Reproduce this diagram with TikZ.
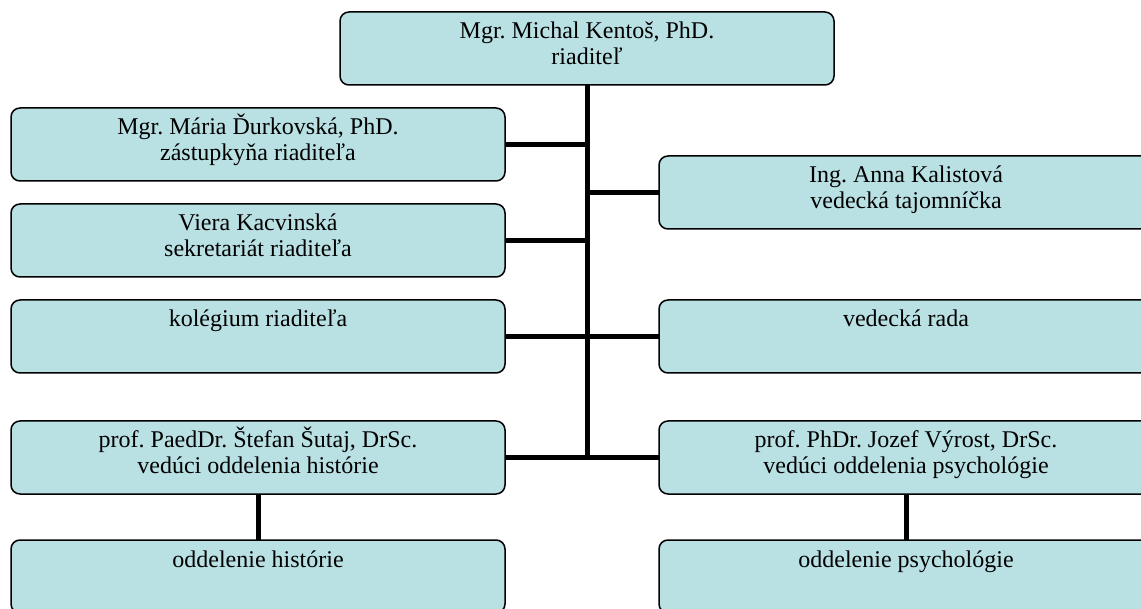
\documentclass[tikz,border=0pt]{standalone}
\usepackage{fontspec}
\setmainfont{Liberation Serif}
\frenchspacing
\begin{document}
\begin{tikzpicture}[x=1pt,y=-1pt,
  orgshape/.style={minimum width=494pt,minimum height=73pt,inner sep=0pt,outer sep=0pt},
  orgbox/.style={draw=black,line width=1.5pt,fill=boxfill,rounded corners=9pt},
  link/.style={draw=black,line width=5pt},
  lbl/.style={anchor=base,inner sep=0pt,font=\fontsize{24}{27}\selectfont}]
\definecolor{boxfill}{RGB}{185,224,227}
\useasboundingbox (0,0) rectangle (1141,609);
\clip (0,0) rectangle (1141,609);
% box positions
\node[orgshape] (top) at (587,48.5)  {};
\node[orgshape] (mar) at (258,144.5) {};
\node[orgshape] (vie) at (258,240.5) {};
\node[orgshape] (kol) at (258,336.5) {};
\node[orgshape] (sut) at (258,457.5) {};
\node[orgshape] (his) at (258,576.5) {};
\node[orgshape] (kal) at (906,192.5) {};
\node[orgshape] (ved) at (906,336.5) {};
\node[orgshape] (vyr) at (906,457.5) {};
\node[orgshape] (psy) at (906,576.5) {};
% links
\coordinate (tend) at (top.south |- sut.east);
\draw[link,line cap=rect] (top.south) -- (tend);
\draw[link] (mar.east) -- (mar.east -| top.south);
\draw[link] (vie.east) -- (vie.east -| top.south);
\draw[link] (kol.east) -- (kol.east -| top.south);
\draw[link] (sut.east) -- (sut.east -| top.south);
\draw[link] (kal.west) -- (kal.west -| top.south);
\draw[link] (ved.west) -- (ved.west -| top.south);
\draw[link] (vyr.west) -- (vyr.west -| top.south);
\draw[link] (sut.south) -- (his.north);
\draw[link] (vyr.south) -- (psy.north);
% boxes on top of links
\foreach \b in {top,mar,vie,kol,sut,his,kal,ved,vyr,psy}
  \draw[orgbox] (\b.north west) rectangle (\b.south east);
% labels
\node[lbl] (ttop1) at ([yshift=-27pt]top.north) {Mgr. Michal Kentoš, PhD.};
\node[lbl] (ttop2) at ([yshift=-53pt]top.north) {riaditeľ};
\node[lbl] (tmar1) at ([yshift=-27pt]mar.north) {Mgr. Mária Ďurkovská, PhD.};
\node[lbl] (tmar2) at ([yshift=-53pt]mar.north) {zástupkyňa riaditeľa};
\node[lbl] (tvie1) at ([yshift=-27pt]vie.north) {Viera Kacvinská};
\node[lbl] (tvie2) at ([yshift=-53pt]vie.north) {sekretariát riaditeľa};
\node[lbl] (tkol1) at ([yshift=-27pt]kol.north) {kolégium riaditeľa};
\node[lbl] (tsut1) at ([yshift=-27pt]sut.north) {prof. PaedDr. Štefan Šutaj, DrSc.};
\node[lbl] (tsut2) at ([yshift=-53pt]sut.north) {vedúci oddelenia histórie};
\node[lbl] (this1) at ([yshift=-27pt]his.north) {oddelenie histórie};
\node[lbl] (tkal1) at ([yshift=-27pt]kal.north) {Ing. Anna Kalistová};
\node[lbl] (tkal2) at ([yshift=-53pt]kal.north) {vedecká tajomníčka};
\node[lbl] (tved1) at ([yshift=-27pt]ved.north) {vedecká rada};
\node[lbl] (tvyr1) at ([yshift=-27pt]vyr.north) {prof. PhDr. Jozef Výrost, DrSc.};
\node[lbl] (tvyr2) at ([yshift=-53pt]vyr.north) {vedúci oddelenia psychológie};
\node[lbl] (tpsy1) at ([yshift=-27pt]psy.north) {oddelenie psychológie};
\end{tikzpicture}
\end{document}
